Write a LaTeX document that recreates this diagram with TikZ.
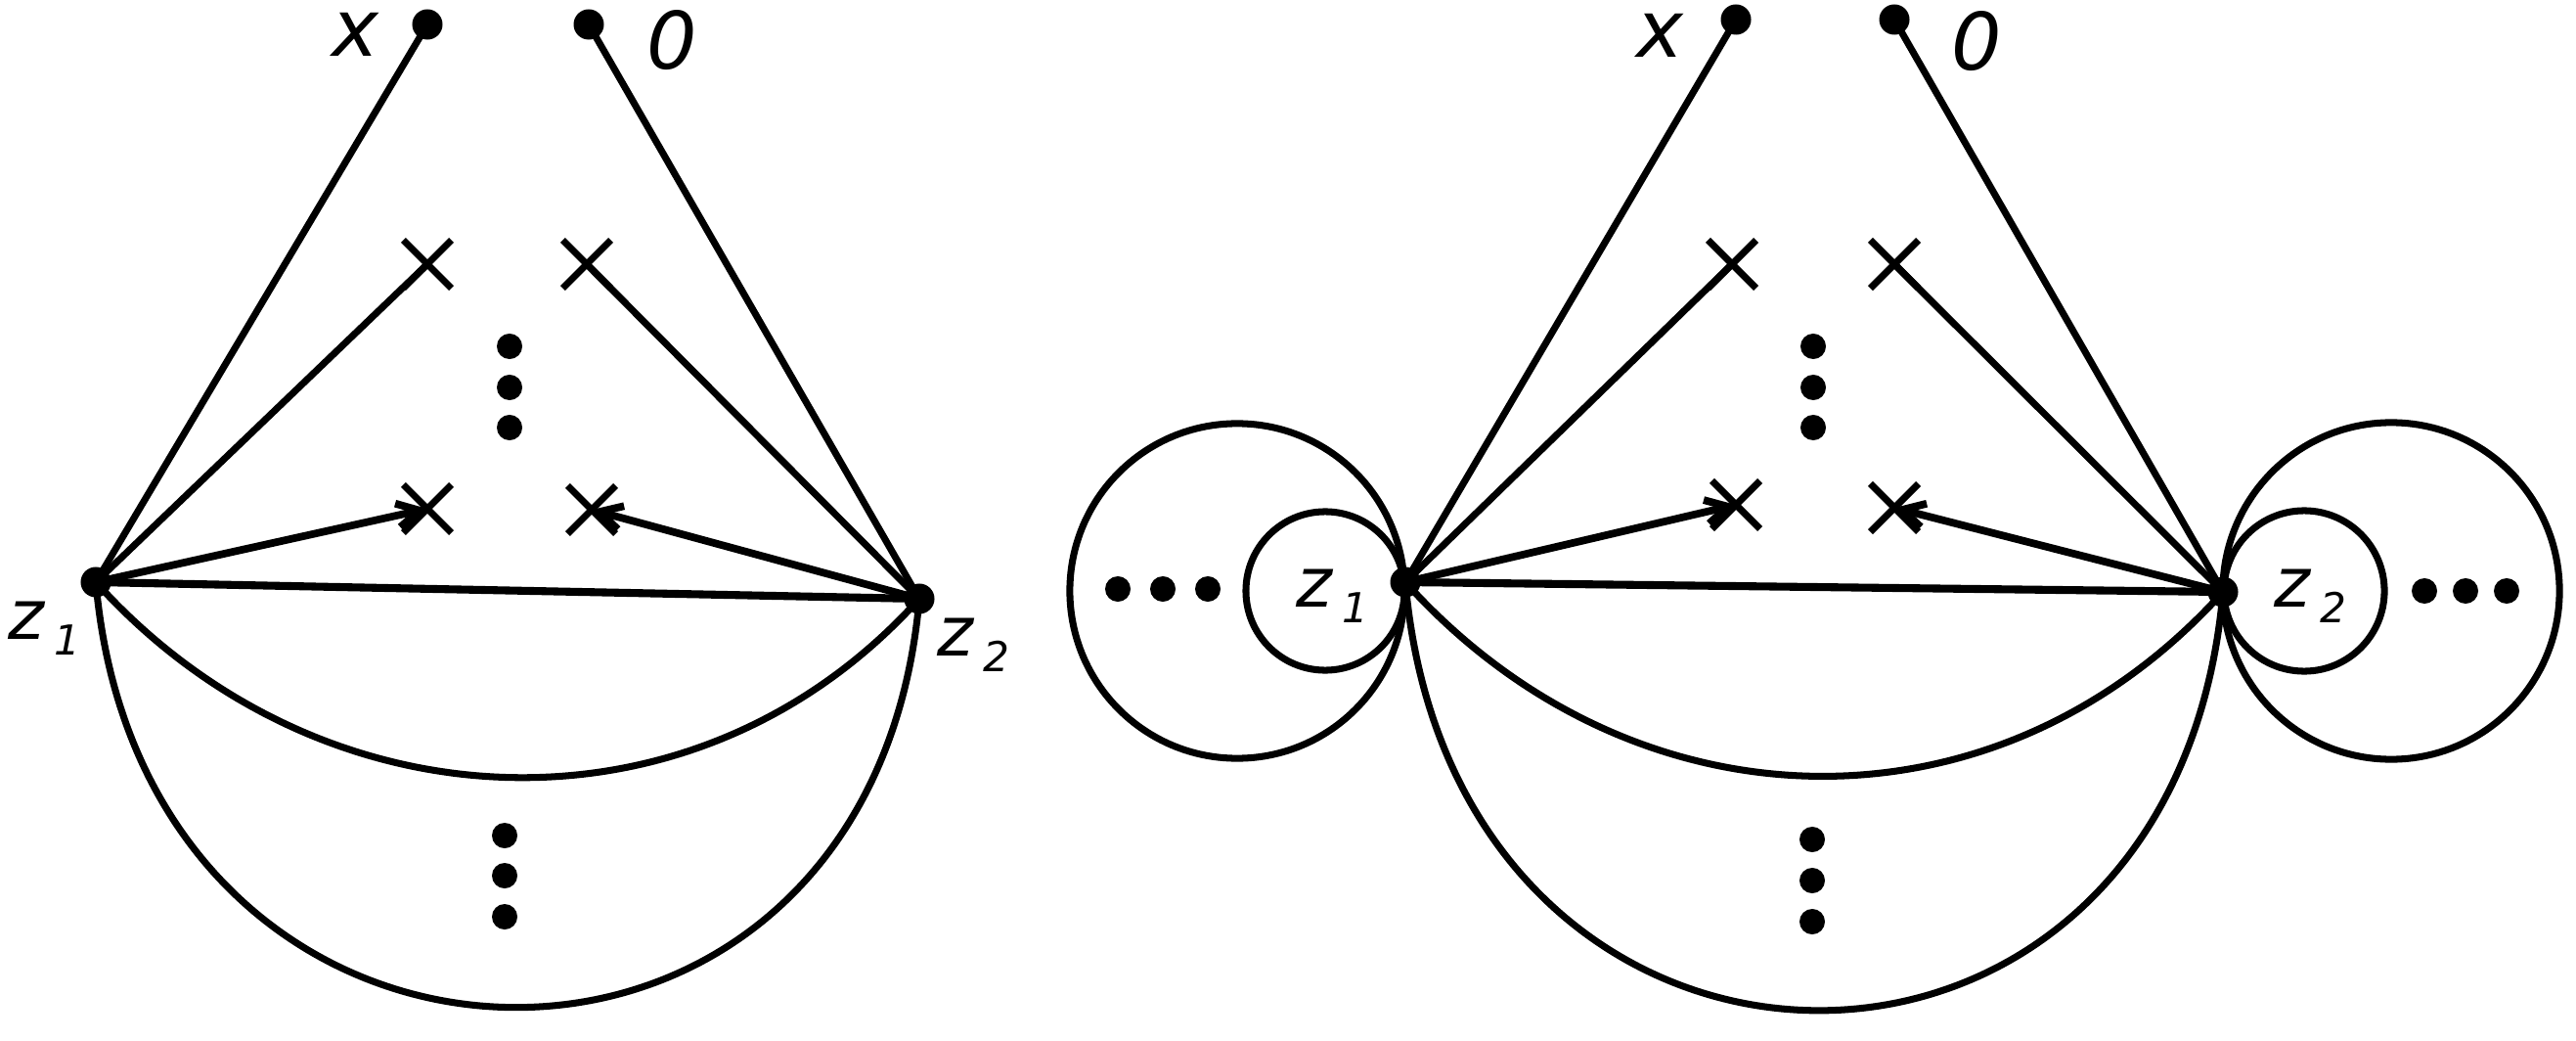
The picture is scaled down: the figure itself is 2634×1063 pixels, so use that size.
\documentclass[tikz,border=0pt]{standalone}
\usepackage{fontspec}
\setmainfont{DejaVu Sans}
\usetikzlibrary{shapes.misc, arrows.meta}
\begin{document}
\begin{tikzpicture}[x=0.01cm, y=0.01cm,
  edge/.style={line width=2pt},
  chord/.style={line width=2.3pt},
  bigdot/.style={circle, fill=black, inner sep=0pt, minimum size=0.31cm},
  smalldot/.style={circle, fill=black, inner sep=0pt, minimum size=0.26cm},
  xmark/.style={cross out, draw=black, line width=2pt, inner sep=0pt, minimum size=0.42cm},
  lab/.style={inner sep=0pt, anchor=base west, font=\fontsize{23}{23}\selectfont\itshape},
  zlab/.style={inner sep=0pt, anchor=base west, font=\fontsize{20}{20}\selectfont\itshape},
  arr/.style={line width=2.2pt, -{Straight Barb[length=6.5pt, width=7pt]}},
  ring/.style={circle, draw=black, line width=2pt, inner sep=0pt}
]
\useasboundingbox (0,0) rectangle (2634,1063);

% ---------------- left figure ----------------
\node[bigdot] (L-z1) at (98,468) {};
\node[bigdot] (L-z2) at (940,451) {};
\node[bigdot] (L-x) at (437,1038) {};
\node[bigdot] (L-o) at (602,1038) {};
\node[xmark] (L-c1) at (437,793) {};
\node[xmark] (L-c2) at (600,793) {};
\node[xmark] (L-c3) at (437,543) {};
\node[xmark] (L-c4) at (605,542) {};
\node[smalldot] (L-d1) at (521,709) {};
\node[smalldot] (L-d2) at (521,667) {};
\node[smalldot] (L-d3) at (521,626) {};
\node[smalldot] (L-e1) at (516,209) {};
\node[smalldot] (L-e2) at (516,168) {};
\node[smalldot] (L-e3) at (516,126) {};
\node[lab] (L-xl) at (339,1005) {x};
\node[lab] (L-ol) at (661,992) {0};
\node[zlab] (L-z1l) at (8,410) {z\kern2.8pt\raisebox{-4.8pt}{\fontsize{12}{12}\selectfont 1}};
\node[zlab] (L-z2l) at (958,393) {z\kern2.8pt\raisebox{-4.8pt}{\fontsize{12}{12}\selectfont 2}};

\draw[edge] (L-z1.center) -- (L-x.center);
\draw[edge] (L-z1.center) -- (L-c1.center);
\draw[arr] (L-z1.center) -- (L-c3.center);
\draw[chord] (L-z1.center) -- (L-z2.center);
\draw[edge] (L-z2.center) -- (L-o.center);
\draw[edge] (L-z2.center) -- (L-c2.center);
\draw[arr] (L-z2.center) -- (L-c4.center);
\draw[edge] (L-z1.center) to[out=-48, in=-132, looseness=1.04] (L-z2.center);
\draw[edge] (L-z1.center) to[out=-85, in=-95, looseness=1.73] (L-z2.center);

% ---------------- right figure ----------------
\node[bigdot] (R-z1) at (1437,468) {};
\node[bigdot] (R-z2) at (2273,458) {};
\node[bigdot] (R-x) at (1775,1043) {};
\node[bigdot] (R-o) at (1937,1043) {};
\node[xmark] (R-c1) at (1771,793) {};
\node[xmark] (R-c2) at (1937,793) {};
\node[xmark] (R-c3) at (1775,547) {};
\node[xmark] (R-c4) at (1937,544) {};
\node[smalldot] (R-d1) at (1854,709) {};
\node[smalldot] (R-d2) at (1854,667) {};
\node[smalldot] (R-d3) at (1854,626) {};
\node[smalldot] (R-e1) at (1853,205) {};
\node[smalldot] (R-e2) at (1853,163) {};
\node[smalldot] (R-e3) at (1853,121) {};
\node[lab] (R-xl) at (1673,1004) {x};
\node[lab] (R-ol) at (1995,991) {0};
\node[zlab] (R-z1l) at (1325,443) {z\kern2.8pt\raisebox{-4.8pt}{\fontsize{12}{12}\selectfont 1}};
\node[zlab] (R-z2l) at (2325,443) {z\kern2.8pt\raisebox{-4.8pt}{\fontsize{12}{12}\selectfont 2}};

\node[ring, minimum size=3.42cm] (R-bigL) at (1265,459) {};
\node[ring, minimum size=1.62cm] (R-smallL) at (1355,459) {};
\node[ring, minimum size=3.44cm] (R-bigR) at (2445,459) {};
\node[ring, minimum size=1.64cm] (R-smallR) at (2356,459) {};
\node[smalldot] (R-h1) at (1143,461) {};
\node[smalldot] (R-h2) at (1189,461) {};
\node[smalldot] (R-h3) at (1235,461) {};
\node[smalldot] (R-h4) at (2479,459) {};
\node[smalldot] (R-h5) at (2521,459) {};
\node[smalldot] (R-h6) at (2563,459) {};

\draw[edge] (R-z1.center) -- (R-x.center);
\draw[edge] (R-z1.center) -- (R-c1.center);
\draw[arr] (R-z1.center) -- (R-c3.center);
\draw[chord] (R-z1.center) -- (R-z2.center);
\draw[edge] (R-z2.center) -- (R-o.center);
\draw[edge] (R-z2.center) -- (R-c2.center);
\draw[arr] (R-z2.center) -- (R-c4.center);
\draw[edge] (R-z1.center) to[out=-48, in=-132, looseness=1.06] (R-z2.center);
\draw[edge] (R-z1.center) to[out=-85, in=-95, looseness=1.77] (R-z2.center);
\end{tikzpicture}
\end{document}
